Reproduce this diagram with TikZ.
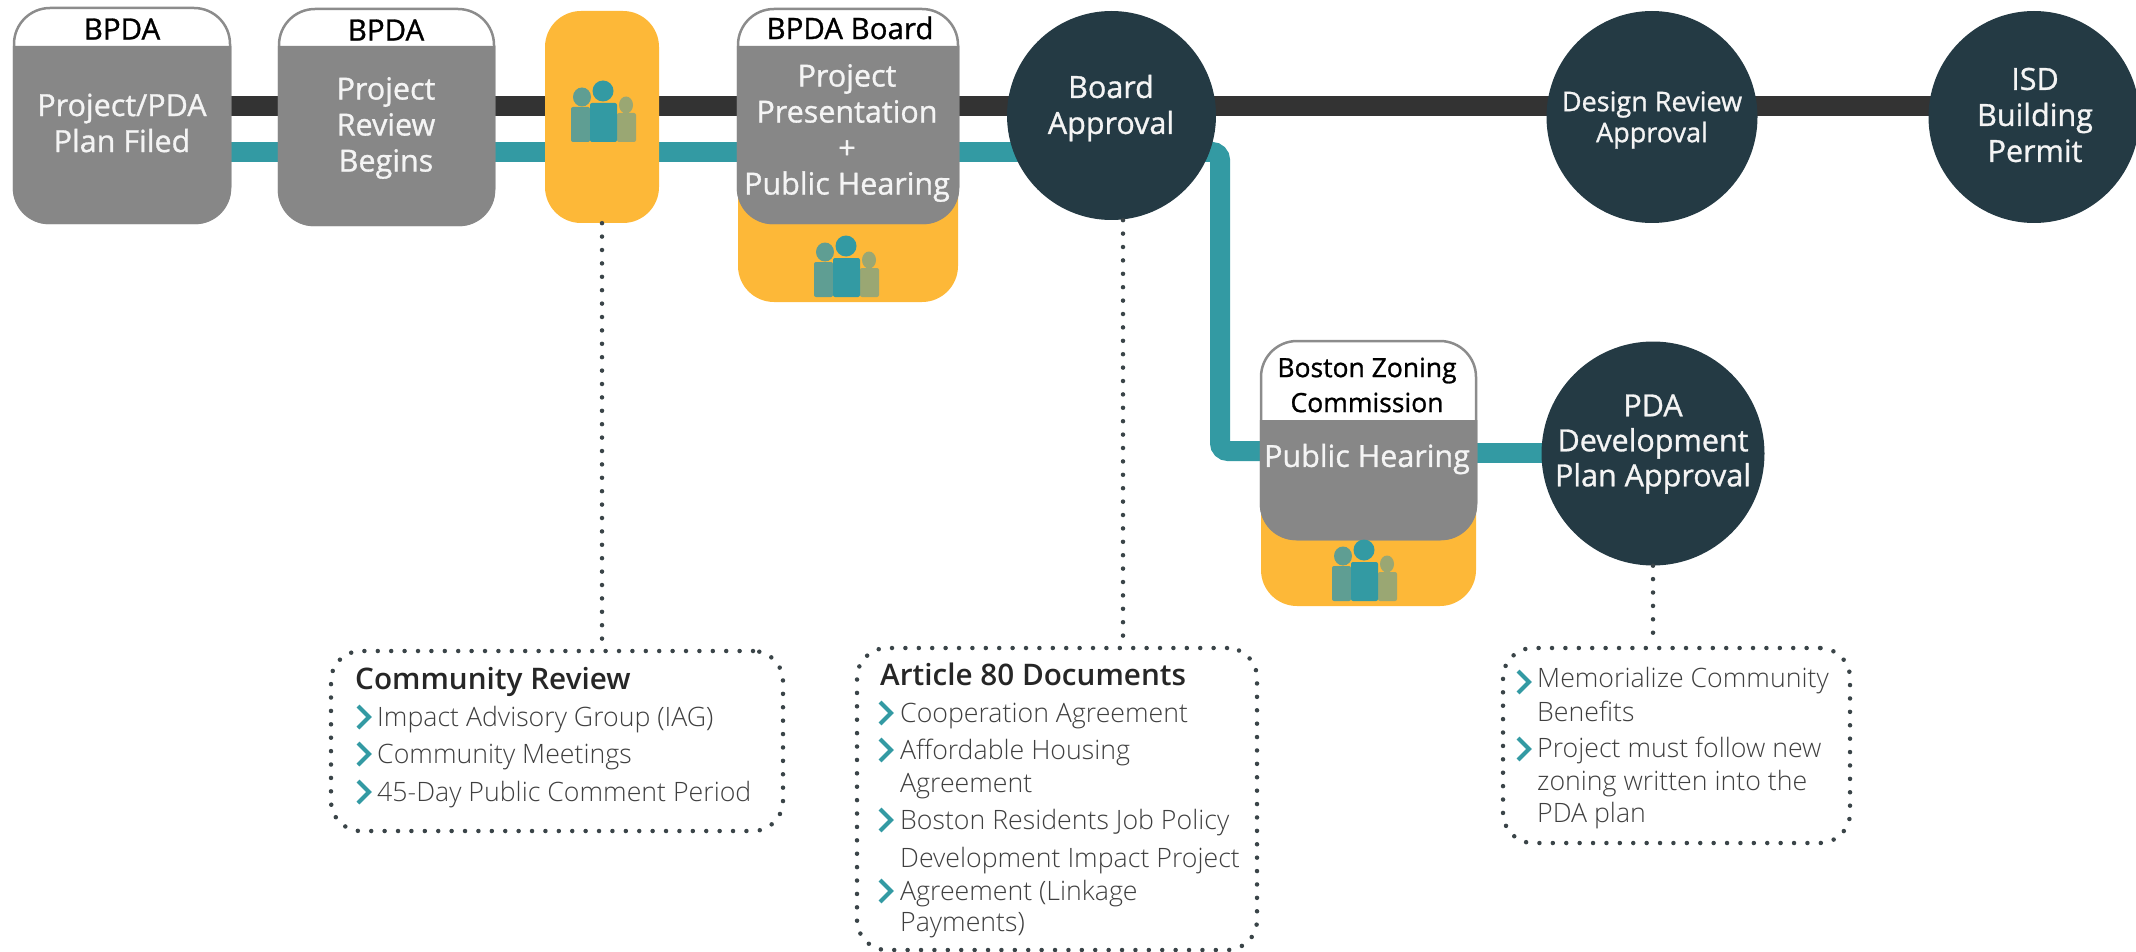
\documentclass[tikz,border=0pt]{standalone}
\usepackage{fontspec}
\setmainfont{Open Sans}
\newfontfamily\oslight{Open Sans Light}
\IfFontExistsTF{Open Sans Semibold}{\newfontfamily\ossemi{Open Sans Semibold}}{\newfontfamily\ossemi{Open Sans}[FakeBold=1.4]}
\newfontfamily\osmed{Open Sans}[FakeBold=1.0]
\usetikzlibrary{backgrounds}
\definecolor{cardgray}{HTML}{878787}
\definecolor{cardedge}{HTML}{8C8C8C}
\definecolor{amber}{HTML}{FDB838}
\definecolor{tealline}{HTML}{339AA3}
\definecolor{darkline}{HTML}{333333}
\definecolor{navy}{HTML}{243A44}
\definecolor{dotcol}{HTML}{3A4448}
\definecolor{bodytxt}{HTML}{3F3F3F}
\definecolor{softwhite}{HTML}{F4F4F4}
\definecolor{figleft}{HTML}{5F9E93}
\definecolor{figright}{HTML}{9AA773}
\newcommand{\headrule}[3]{% node, y of header line, radius
  \fill[cardgray] (#1.west |- 0,#2) -- (#1.east |- 0,#2) -- ([yshift=#3pt]#1.south east)
    arc[start angle=0,end angle=90,radius=#3pt,y radius=-#3pt] -- ([xshift=#3pt]#1.south west)
    arc[start angle=90,end angle=180,radius=#3pt,y radius=-#3pt] -- cycle;}
\newcommand{\bul}[2]{\draw[chev] (#1-1,#2-11) -- (#1+10,#2) -- (#1-1,#2+11);}
\tikzset{
  x=1pt,y=-1pt,
  card/.style={draw=cardedge,line width=2.5pt,fill=white,rounded corners=36pt,inner sep=0pt},
  pill/.style={fill=amber,rounded corners=36pt,inner sep=0pt},
  disc/.style={fill=navy,ellipse,inner sep=0pt},
  dotbox/.style={draw=dotcol,line width=4.5pt,dash pattern=on 0pt off 13.4pt,line cap=round,rounded corners=30pt,inner sep=0pt},
  dotlink/.style={draw=dotcol,line width=4.5pt,dash pattern=on 0pt off 13.4pt,line cap=round},
  darkbar/.style={draw=darkline,line width=20pt},
  tealbar/.style={draw=tealline,line width=20pt},
  chev/.style={draw=tealline,line width=4pt},
  head/.style={font=\osmed\fontsize{29.5}{35}\selectfont,text=black,align=center,inner sep=0pt},
  inner/.style={font=\osmed\fontsize{30.5}{36}\selectfont,text=softwhite,align=center,inner sep=0pt},
  lst/.style={font=\oslight\fontsize{26.7}{33}\selectfont,text=bodytxt,anchor=mid west,inner sep=0pt,yshift=-7pt},
  ttl/.style={font=\ossemi\fontsize{29.7}{33}\selectfont,text=black!85,anchor=mid west,inner sep=0pt,yshift=-7pt},
  peopleicon/.pic={
    \fill[figleft,rounded corners=2pt] (-32,0) rectangle (-13,-35);
    \fill[figleft] (-21,-45) ellipse[x radius=9,y radius=9.5];
    \fill[figright,rounded corners=2pt] (14,0) rectangle (33,-29);
    \fill[figright] (23,-37) ellipse[x radius=7,y radius=8.5];
    \fill[tealline,rounded corners=2pt] (-13,0) rectangle (14,-39);
    \fill[tealline] (0,-51) ellipse[x radius=10.5,y radius=10.5];
  },
}
\usetikzlibrary{shapes.geometric}
\begin{document}
\begin{tikzpicture}
\useasboundingbox (0,0) rectangle (2136,952);
% yellow backings
\node[pill,minimum width=114pt,minimum height=212pt] (pillA) at (602,117) {};
\node[pill,minimum width=220pt,minimum height=200pt] (pillB) at (848,202) {};
\node[pill,minimum width=215pt,minimum height=200pt] (pillC) at (1368.5,506) {};
% cards
\node[card,minimum width=216pt,minimum height=215pt] (b1) at (122,115.5) {};
\headrule{b1}{46}{36}
\node[card,minimum width=215pt,minimum height=216pt] (b2) at (386.5,117) {};
\headrule{b2}{46}{36}
\node[card,minimum width=220pt,minimum height=214pt] (b4) at (848,116) {};
\headrule{b4}{46}{36}
\node[card,minimum width=215pt,minimum height=198pt] (zon) at (1368.5,440) {};
\headrule{zon}{420}{36}
% discs
\node[disc,minimum width=209pt,minimum height=209pt] (board) at (1111.5,115.5) {};
\node[disc,minimum width=211pt,minimum height=212pt] (design) at (1652,117) {};
\node[disc,minimum width=211pt,minimum height=212pt] (isd) at (2034,117) {};
\node[disc,minimum width=223pt,minimum height=224pt] (pda) at (1653,453.5) {};
% note boxes
\node[dotbox,minimum width=452pt,minimum height=180pt] (cr) at (557,741) {};
\node[dotbox,minimum width=400pt,minimum height=302pt] (art) at (1057,799) {};
\node[dotbox,minimum width=347pt,minimum height=195pt] (zn) at (1676.5,745.5) {};
% bars
\coordinate (dk) at (0,106);
\coordinate (tl) at (0,152);
\coordinate (tm) at (0,451);
\coordinate (tn) at (0,453);
\coordinate (bend) at (1220,0);
\coordinate (d2) at (1123,0);
\begin{scope}[on background layer]
  \draw[darkbar] (b1 |- dk) -- (b2 |- dk) -- (pillA |- dk) -- (b4 |- dk) -- (board |- dk) -- (design |- dk) -- (isd |- dk);
  \draw[tealbar] (b1 |- tl) -- (b2 |- tl) -- (pillA |- tl) -- (b4 |- tl) -- (board |- tl);
  \draw[tealbar,rounded corners=8pt] (board |- tl) -- (bend |- tl) -- (bend |- tm) -- (zon |- tm);
  \draw[tealbar] (zon |- tn) -- (pda |- tn);
\end{scope}
% dotted links
\draw[dotlink] (pillA.south) -- (pillA.south |- cr.north);
\draw[dotlink] (d2 |- board.south) -- (d2 |- art.north);
\draw[dotlink] (pda.south) -- (pda.south |- zn.north);
% people
\pic at (603,142) {peopleicon};
\pic at (846,297) {peopleicon};
\pic at (1364,601) {peopleicon};
% card text
\node[head] (t1) at (122,29) {BPDA};
\node[inner] (t1b) at (122,123) {Project/PDA\\Plan Filed};
\node[head] (t2) at (386,30) {BPDA};
\node[inner] (t2b) at (386,128) {Project\\Review\\Begins};
\node[head] (t4) at (850,28) {BPDA Board};
\node[inner] (t4b) at (847,133) {Project\\Presentation\\+\\Public Hearing};
\node[head,font=\osmed\fontsize{26.5}{35}\selectfont] (tz) at (1367,385) {Boston Zoning\\Commission};
\node[inner] (tzb) at (1367,459) {Public Hearing};
% disc text
\node[inner] (tb) at (1111,108) {Board\\Approval};
\node[inner,font=\osmed\fontsize{27}{31}\selectfont] (td) at (1652,120) {Design Review\\Approval};
\node[inner] (ti) at (2035,115) {ISD\\Building\\Permit};
\node[inner,font=\osmed\fontsize{30.5}{35}\selectfont] (tp) at (1653,444) {PDA\\Development\\Plan Approval};
% community review
\node[ttl] (crt) at (355,680) {Community Review};
\bul{359}{717}\node[lst] (c1) at (377,717) {Impact Advisory Group (IAG)};
\bul{359}{754}\node[lst] (c2) at (377,754) {Community Meetings};
\bul{359}{792}\node[lst] (c3) at (377,792) {45-Day Public Comment Period};
% article 80
\node[ttl] (art0) at (880,676) {Article 80 Documents};
\bul{881}{713}\node[lst] (a1) at (900,713) {Cooperation Agreement};
\bul{881}{750}\node[lst] (a2) at (900,750) {Affordable Housing};
\node[lst] (a3) at (900,783) {Agreement};
\bul{881}{820}\node[lst] (a4) at (900,820) {Boston Residents Job Policy};
\node[lst] (a5) at (900,858) {Development Impact Project};
\bul{881}{891}\node[lst] (a6) at (900,891) {Agreement (Linkage};
\node[lst] (a7) at (900,922) {Payments)};
% zoning notes
\bul{1519}{682}\node[lst] (z1) at (1537,678) {Memorialize Community};
\node[lst] (z2) at (1537,712) {Benefits};
\bul{1519}{749}\node[lst] (z3) at (1537,748) {Project must follow new};
\node[lst] (z4) at (1537,781) {zoning written into the};
\node[lst] (z5) at (1537,813) {PDA plan};
\end{tikzpicture}
\end{document}
